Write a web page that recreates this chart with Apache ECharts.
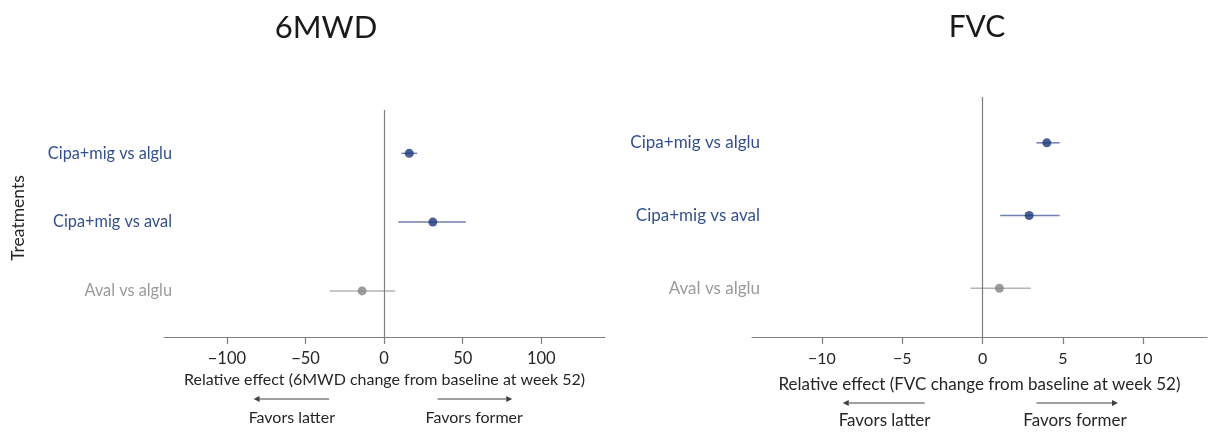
<!DOCTYPE html>
<html>
<head>
<meta charset="utf-8">
<script src="https://cdn.jsdelivr.net/npm/echarts@6/dist/echarts.min.js"></script>
<style>
  html, body { margin: 0; padding: 0; background: #ffffff; }
  #main { width: 1216px; height: 432px; }
</style>
</head>
<body>
<div id="main"></div>
<script>
// Comparisons, listed top to bottom
const categories = ['Cipa+mig vs alglu', 'Cipa+mig vs aval', 'Aval vs alglu'];
const rowPositions = [3, 2, 1];

// 6MWD relative effect (metres): estimate and interval bounds
const mwdEstimate = [16, 31, -14];
const mwdLower = [11, 9, -34.5];
const mwdUpper = [21, 52, 7];

// FVC relative effect (% predicted): estimate and interval bounds
const fvcEstimate = [4.0, 2.9, 1.05];
const fvcLower = [3.35, 1.1, -0.75];
const fvcUpper = [4.8, 4.8, 3.0];

// Tick labels
const mwdTicks = [-100, -50, 0, 50, 100];
const fvcTicks = [-10, -5, 0, 5, 10];

const FONT = 'Lato';
const BLUE_TEXT = '#34508f';
const GRAY_TEXT = '#9a9a9a';
const BLUE_DOT = '#1c367a';
const GRAY_DOT = '#858585';
const BLUE_CI = '#6f81b0';
const GRAY_CI = '#b4b4b4';
const AXIS = '#7f7f7f';
const INK = '#262626';

const dotColors = [BLUE_DOT, BLUE_DOT, GRAY_DOT];
const ciColors = [BLUE_CI, BLUE_CI, GRAY_CI];
const labelKinds = ['b', 'b', 'g'];

function minusFmt(v) { return v < 0 ? '\u2212' + Math.abs(v) : String(v); }

function yAxisFor(gridIndex, fontSize) {
  return {
    type: 'value', gridIndex: gridIndex, min: 0.33, max: 3.63,
    axisLine: { show: false }, axisTick: { show: false }, splitLine: { show: false },
    axisLabel: {
      customValues: rowPositions,
      margin: -8,
      formatter: function (v) {
        const i = rowPositions.indexOf(v);
        return '{' + labelKinds[i] + '|' + categories[i] + '}';
      },
      rich: {
        b: { color: BLUE_TEXT, fontSize: fontSize, fontFamily: FONT },
        g: { color: GRAY_TEXT, fontSize: fontSize, fontFamily: FONT }
      }
    }
  };
}

function xAxisFor(gridIndex, min, max, ticks, name, nameGap, nameSize, tickSize, margin) {
  return {
    type: 'value', gridIndex: gridIndex, min: min, max: max,
    name: name, nameLocation: 'middle', nameGap: nameGap,
    nameTextStyle: { color: INK, fontSize: nameSize, fontFamily: FONT },
    axisLine: { onZero: false, lineStyle: { color: AXIS, width: 1.2 } },
    axisTick: { show: true, customValues: ticks, length: 7, lineStyle: { color: AXIS, width: 1.2 } },
    axisLabel: { customValues: ticks, formatter: minusFmt, margin: margin,
                 color: INK, fontSize: tickSize, fontFamily: FONT },
    splitLine: { show: false }
  };
}

function intervalSeries(idx, lower, upper) {
  return {
    type: 'custom', xAxisIndex: idx, yAxisIndex: idx,
    data: rowPositions.map((p, i) => [lower[i], upper[i], p, i]),
    encode: { x: [0, 1], y: 2 },
    renderItem: function (params, api) {
      const a = api.coord([api.value(0), api.value(2)]);
      const b = api.coord([api.value(1), api.value(2)]);
      return {
        type: 'line',
        shape: { x1: a[0], y1: a[1], x2: b[0], y2: b[1] },
        style: { stroke: ciColors[api.value(3)], lineWidth: 1.5 }
      };
    },
    silent: true
  };
}

function pointSeries(idx, est) {
  return {
    type: 'scatter', xAxisIndex: idx, yAxisIndex: idx, symbolSize: 9, z: 5,
    data: est.map((v, i) => ({ value: [v, rowPositions[i]], itemStyle: { color: dotColors[i] } })),
    markLine: {
      silent: true, symbol: 'none', label: { show: false },
      lineStyle: { color: AXIS, type: 'solid', width: 1.2 },
      data: [{ xAxis: 0 }]
    }
  };
}

const chart = echarts.init(document.getElementById('main'), null, { renderer: 'canvas' });

chart.setOption({
  animation: false,
  backgroundColor: '#ffffff',
  textStyle: { fontFamily: FONT },
  title: [
    { text: '6MWD', left: 321, top: 7, textAlign: 'center',
      textStyle: { fontSize: 31, fontWeight: 'normal', color: '#1a1a1a', fontFamily: FONT } },
    { text: 'FVC', left: 972, top: 7, textAlign: 'center',
      textStyle: { fontSize: 30, fontWeight: 'normal', color: '#1a1a1a', fontFamily: FONT } }
  ],
  grid: [
    { left: 164, right: 611, top: 110, bottom: 95 },
    { left: 752, right: 9, top: 97, bottom: 95 }
  ],
  xAxis: [
    xAxisFor(0, -140, 140.5, mwdTicks, 'Relative effect (6MWD change from baseline at week 52)', 33, 16, 16.5, 13),
    xAxisFor(1, -14.35, 13.97, fvcTicks, 'Relative effect (FVC change from baseline at week 52)', 39, 17, 16, 14)
  ],
  yAxis: [yAxisFor(0, 16.3), yAxisFor(1, 17)],
  series: [
    intervalSeries(0, mwdLower, mwdUpper),
    pointSeries(0, mwdEstimate),
    intervalSeries(1, fvcLower, fvcUpper),
    pointSeries(1, fvcEstimate)
  ]
});

// Direction annotations under each axis, placed in data units
function directionGraphics(axisIdx, leftArrow, rightArrow, leftText, rightText, arrowY, textY, size) {
  const px = v => chart.convertToPixel({ xAxisIndex: axisIdx }, v);
  const items = [];
  const head = 6, half = 3;
  const l0 = px(leftArrow[0]), l1 = px(leftArrow[1]);
  items.push({ type: 'line', shape: { x1: l0 + head, y1: arrowY, x2: l1, y2: arrowY },
               style: { stroke: '#404040', lineWidth: 1 } });
  items.push({ type: 'polygon', shape: { points: [[l0, arrowY], [l0 + head, arrowY - half], [l0 + head, arrowY + half]] },
               style: { fill: '#404040' } });
  const r0 = px(rightArrow[0]), r1 = px(rightArrow[1]);
  items.push({ type: 'line', shape: { x1: r0, y1: arrowY, x2: r1 - head, y2: arrowY },
               style: { stroke: '#404040', lineWidth: 1 } });
  items.push({ type: 'polygon', shape: { points: [[r1, arrowY], [r1 - head, arrowY - half], [r1 - head, arrowY + half]] },
               style: { fill: '#404040' } });
  items.push({ type: 'text', x: px(leftText), y: textY,
               style: { text: 'Favors latter', fill: INK, font: size + 'px ' + FONT, align: 'center', verticalAlign: 'middle' } });
  items.push({ type: 'text', x: px(rightText), y: textY,
               style: { text: 'Favors former', fill: INK, font: size + 'px ' + FONT, align: 'center', verticalAlign: 'middle' } });
  return items;
}

const graphics = []
  .concat(directionGraphics(0, [-83, -35], [34, 81.5], -58.7, 57.3, 399, 418, 16))
  .concat(directionGraphics(1, [-8.7, -3.6], [3.36, 8.43], -6.1, 5.75, 403, 421, 17));

graphics.push({
  type: 'text', x: 18, y: 218, rotation: Math.PI / 2,
  style: { text: 'Treatments', fill: INK, font: '17.5px ' + FONT, align: 'center', verticalAlign: 'middle' }
});

chart.setOption({ graphic: graphics });
</script>
</body>
</html>
